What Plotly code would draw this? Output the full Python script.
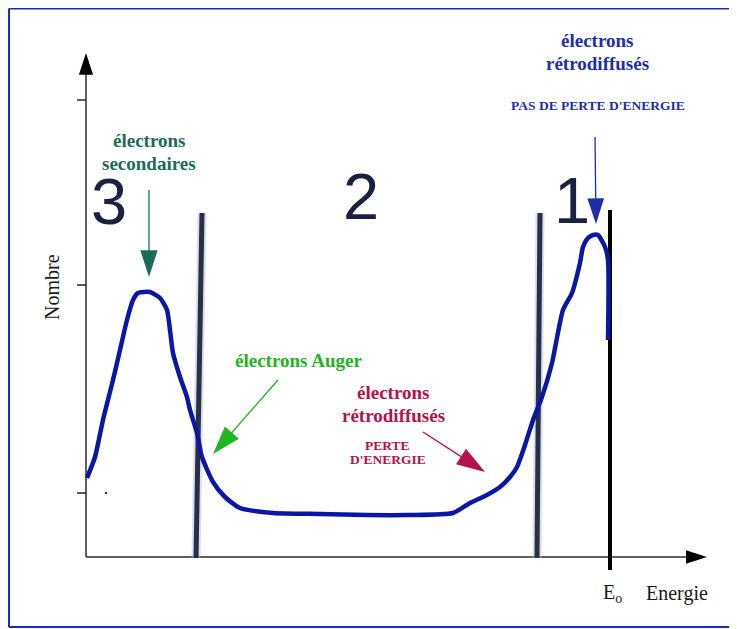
import plotly.graph_objects as go

# ---- data (energy in arbitrary units, E0 = 100; count in arbitrary units) ----
energy = [0.19, 1.72, 3.24, 5.15, 6.49, 7.82, 8.97, 9.92, 12.21, 14.12, 15.46, 16.03,
          16.60, 17.94, 19.27, 19.85, 21.18, 22.14, 24.24, 26.53, 29.39, 35.69, 44.66,
          53.63, 61.26, 70.04, 73.28, 76.15, 79.01, 80.92, 82.25, 83.78, 85.31, 87.02,
          88.93, 91.03, 92.75, 94.27, 94.85, 95.80, 96.76, 97.71, 99.05, 99.62, 99.62]
nombre = [15.8, 20.0, 27.4, 35.4, 41.4, 47.4, 51.4, 52.8, 53.0, 51.8, 49.4, 45.4,
          40.8, 36.0, 32.0, 29.4, 24.8, 20.0, 15.0, 12.0, 9.8, 8.8, 8.6,
          8.4, 8.4, 8.8, 10.8, 12.2, 14.0, 16.0, 18.0, 22.4, 27.4, 32.0,
          38.8, 49.4, 52.8, 58.8, 62.0, 63.8, 64.4, 64.4, 62.0, 59.4, 43.4]

y_ticks = [12.8, 54.4, 91.4]
E0 = 100.0
zone_borders_top = [22.14, 86.64]     # energy at top of the zone separators
zone_borders_bottom = [21.0, 86.07]   # energy at bottom of the zone separators
zone_labels = ["3", "2", "1"]
zone_label_E = [4.39, 52.48, 92.75]
zone_label_N = [71.2, 72.2, 71.4]

# the page body has an 8px margin: the figure is sized/ranged to fill the window
W, H = 729, 621
X_RANGE = [-14.885, 124.237]
Y_RANGE = [-14.4, 109.8]

SERIF = "Liberation Serif, Times New Roman, serif"
fig = go.Figure()

# axes (drawn as lines with arrow heads)
axis_col = "#2a2a2a"
fig.add_trace(go.Scatter(x=[0, 0], y=[0, 100.8], mode="lines+markers",
                         line=dict(color=axis_col, width=1.5),
                         marker=dict(symbol="arrow", size=23, angleref="previous", color="black"),
                         hoverinfo="skip"))
fig.add_trace(go.Scatter(x=[0, 118.5], y=[0, 0], mode="lines+markers",
                         line=dict(color=axis_col, width=1.5),
                         marker=dict(symbol="arrow", size=22, angleref="previous", color="black"),
                         hoverinfo="skip"))
# y ticks
tx, ty = [], []
for t in y_ticks:
    tx += [-1.72, 0, None]
    ty += [t, t, None]
fig.add_trace(go.Scatter(x=tx, y=ty, mode="lines", line=dict(color=axis_col, width=1.5),
                         hoverinfo="skip"))
fig.add_trace(go.Scatter(x=[3.82], y=[12.8], mode="markers",
                         marker=dict(size=2.5, color="#333"), hoverinfo="skip"))

# zone separators (thick, with a faint glow)
for et, eb in zip(zone_borders_top, zone_borders_bottom):
    fig.add_trace(go.Scatter(x=[eb, et], y=[-0.2, 68.8], mode="lines",
                             line=dict(color="rgba(170,178,235,0.45)", width=9),
                             hoverinfo="skip"))
    fig.add_trace(go.Scatter(x=[eb, et], y=[-0.2, 68.8], mode="lines",
                             line=dict(color="#283042", width=5), hoverinfo="skip"))

# E0 line
fig.add_trace(go.Scatter(x=[E0, E0], y=[-2.6, 69.4], mode="lines",
                         line=dict(color="black", width=4), hoverinfo="skip"))

# spectrum
fig.add_trace(go.Scatter(x=energy, y=nombre, mode="lines",
                         line=dict(color="#0a16a6", width=4.5, shape="spline", smoothing=0.6),
                         hoverinfo="skip"))

# arrows pointing to features
def arrow(x0, y0, x1, y1, col, size, w=1.3):
    fig.add_trace(go.Scatter(x=[x0, x1], y=[y0, y1], mode="lines+markers",
                             line=dict(color=col, width=w),
                             marker=dict(symbol="arrow", size=size, angleref="previous", color=col),
                             hoverinfo="skip"))

TEAL = "#1b6b5b"
BLUE = "#1c2fa8"
GREEN = "#22b522"
CRIMSON = "#b5114f"
arrow(12.02, 73.4, 12.02, 56.0, TEAL, 28)
arrow(97.14, 84.0, 97.33, 66.6, BLUE, 27)
arrow(36.64, 35.4, 24.24, 20.6, GREEN, 30)
arrow(64.31, 25.0, 76.15, 17.0, CRIMSON, 30)

# texts
def txt(x, y, s, col, size, family=SERIF, angle=0):
    fig.add_annotation(x=x, y=y, xref="x", yref="y", text=s, showarrow=False,
                       font=dict(family=family, size=size, color=col),
                       xanchor="center", yanchor="middle", textangle=angle)

txt(12.02, 83.4, "<b>électrons</b>", TEAL, 19)
txt(12.02, 78.8, "<b>secondaires</b>", TEAL, 19)
txt(97.52, 103.4, "<b>électrons</b>", BLUE, 19)
txt(97.52, 98.8, "<b>rétrodiffusés</b>", BLUE, 19)
txt(97.71, 90.4, "<b>PAS DE PERTE D'ENERGIE</b>", BLUE, 13.5)
txt(40.46, 39.4, "<b>électrons Auger</b>", GREEN, 19)
txt(58.59, 33.0, "<b>électrons</b>", CRIMSON, 19)
txt(58.59, 28.4, "<b>rétrodiffusés</b>", CRIMSON, 19)
txt(57.63, 22.4, "<b>PERTE</b>", CRIMSON, 13.5)
txt(57.63, 19.6, "<b>D'ENERGIE</b>", CRIMSON, 13.5)

for lab, xe, yn in zip(zone_labels, zone_label_E, zone_label_N):
    txt(xe, yn, lab, "#1a2040", 65, family="Liberation Sans, Arial, sans-serif")

txt(-6.49, 54.0, "Nombre", "#1a1a1a", 20, angle=-90)
txt(112.79, -7.2, "Energie", "#1a1a1a", 20)
txt(100.57, -7.2, "E<sub>o</sub>", "#1a1a1a", 20)

# frame: left, top and bottom edges (right edge lies outside the picture)
y_top = 1 - 0.5 / H
y_bot = 1 - 619 / H
x_left = 1 / W
frame_line = dict(color="#1a2bc0", width=2)
fig.update_layout(
    width=W, height=H,
    margin=dict(l=0, r=0, t=0, b=0),
    paper_bgcolor="white", plot_bgcolor="white",
    showlegend=False,
    xaxis=dict(range=X_RANGE, visible=False, fixedrange=True),
    yaxis=dict(range=Y_RANGE, visible=False, fixedrange=True),
    shapes=[
        dict(type="line", xref="paper", yref="paper", x0=x_left, x1=1, y0=y_top, y1=y_top, line=frame_line),
        dict(type="line", xref="paper", yref="paper", x0=x_left, x1=1, y0=y_bot, y1=y_bot, line=frame_line),
        dict(type="line", xref="paper", yref="paper", x0=x_left, x1=x_left, y0=y_bot, y1=y_top, line=frame_line),
    ],
)

fig.write_html("out.html")
